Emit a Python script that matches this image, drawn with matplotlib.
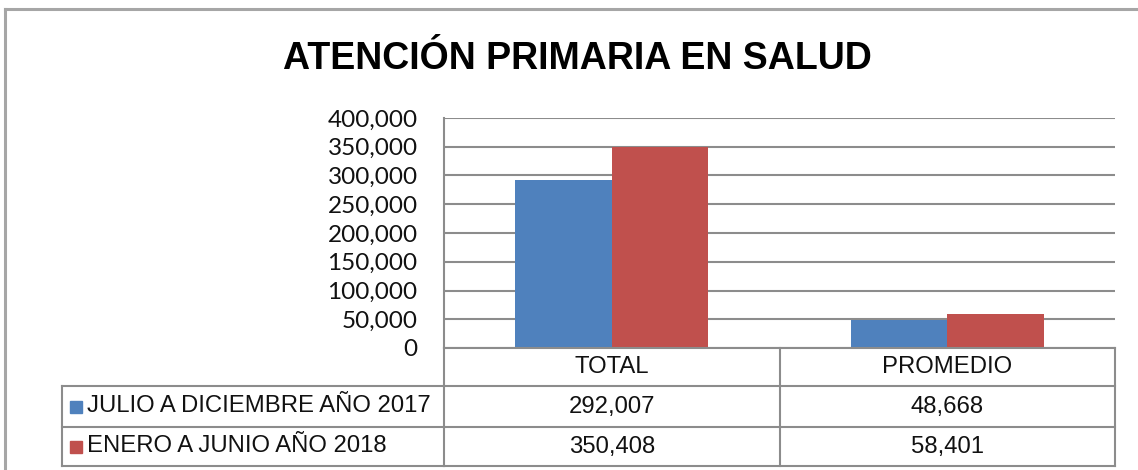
import matplotlib
matplotlib.use("Agg")
import matplotlib.pyplot as plt
import matplotlib.transforms as mtransforms
from matplotlib.lines import Line2D
from matplotlib.patches import Rectangle

title = "ATENCIÓN PRIMARIA EN SALUD"
categories = ["TOTAL", "PROMEDIO"]
series_names = ["JULIO A DICIEMBRE AÑO 2017", "ENERO A JUNIO AÑO 2018"]
values_2017 = [292007, 48668]
values_2018 = [350408, 58401]
colors = ["#4F81BD", "#C0504D"]
yticks = [0, 50000, 100000, 150000, 200000, 250000, 300000, 350000, 400000]

W, H = 1138, 470
fig = plt.figure(figsize=(W / 100, H / 100), dpi=100)

def fy(y):
    return 1 - y / H

def fx(x):
    return x / W

grid_c = "#8C8C8C"
frame_c = "#A6A6A6"

# outer frame
fig.add_artist(Line2D([fx(5), fx(5)], [fy(9), fy(475)], color=frame_c, lw=2.2))
fig.add_artist(Line2D([fx(5), fx(1145)], [fy(9), fy(9)], color=frame_c, lw=2.2))

ax = fig.add_axes([fx(444), fy(348), fx(1115) - fx(444), (348 - 118) / H])
ax.set_xlim(-0.5, 1.5)
ax.set_ylim(0, 400000)
bw = 0.287
x = list(range(len(categories)))
ax.bar([i - bw / 2 for i in x], values_2017, width=bw, color=colors[0], zorder=3)
ax.bar([i + bw / 2 for i in x], values_2018, width=bw, color=colors[1], zorder=3)
ax.set_yticks(yticks)
ax.set_yticklabels([f"{v:,}" for v in yticks], fontfamily="Lato", fontsize=17.5, color="#111111")
ax.tick_params(axis="y", length=0, pad=19)
ax.set_xticks([])
ax.yaxis.grid(True, color=grid_c, lw=1.5, zorder=0)
for s in ["top", "right", "bottom"]:
    ax.spines[s].set_visible(False)
ax.spines["left"].set_color(grid_c)
ax.spines["left"].set_linewidth(1.5)

# data table
tr = mtransforms.blended_transform_factory(ax.transData, fig.transFigure)
rows_y = [348, 386, 427, 466]
lc = grid_c
lw = 1.5
for y in rows_y:
    fig.add_artist(Line2D([-0.5, 1.5], [fy(y), fy(y)], transform=tr, color=lc, lw=lw, clip_on=False))
for xb in [-0.5, 0.5, 1.5]:
    fig.add_artist(Line2D([xb, xb], [fy(348), fy(466)], transform=tr, color=lc, lw=lw, clip_on=False))
for y in rows_y[1:]:
    fig.add_artist(Line2D([fx(62), fx(444)], [fy(y), fy(y)], color=lc, lw=lw))
fig.add_artist(Line2D([fx(62), fx(62)], [fy(386), fy(466)], color=lc, lw=lw))

tf = dict(fontfamily="Liberation Sans", fontsize=17.2, color="#111111", va="center")
for i, c in enumerate(categories):
    fig.text(i, fy((348 + 386) / 2), c, transform=tr, ha="center", **tf)
for r, vals in enumerate([values_2017, values_2018]):
    yc = fy((rows_y[r + 1] + rows_y[r + 2]) / 2)
    for i, v in enumerate(vals):
        fig.text(i, yc, f"{v:,}", transform=tr, ha="center", **tf)
    fig.add_artist(Rectangle((fx(70), yc - 6 / H), 12 / W, 12 / H, color=colors[r], transform=fig.transFigure))
    fig.text(fx(87), yc, series_names[r], ha="left", **tf)

fig.text(fx(577), fy(59), title, ha="center", va="center", fontfamily="Liberation Sans",
         fontweight="bold", fontsize=27, color="black")

fig.savefig("out.png", dpi=100)
